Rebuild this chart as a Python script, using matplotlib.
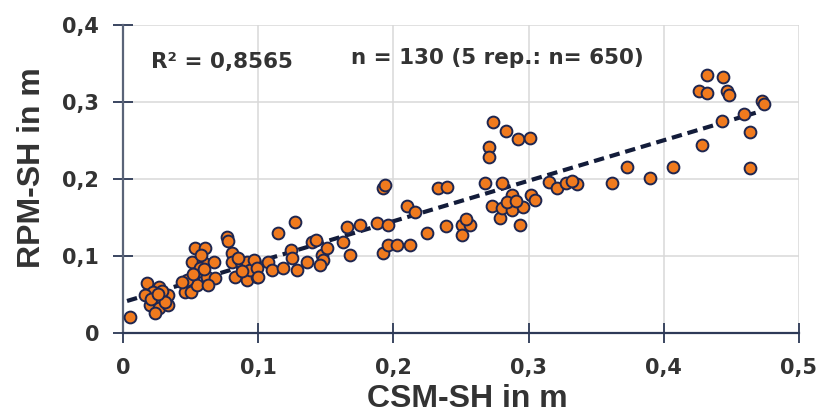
import matplotlib
matplotlib.use("Agg")
import matplotlib.pyplot as plt
from matplotlib.ticker import FuncFormatter
import numpy as np

plt.rcParams['font.family'] = ['Liberation Sans', 'DejaVu Sans']
plt.rcParams['font.weight'] = 'bold'

# CSM-SH (x) vs RPM-SH (y), in m
csm = [0.005,
       0.018, 0.027, 0.022, 0.025, 0.030, 0.020, 0.027, 0.024, 0.033, 0.033, 0.016, 0.029, 0.021, 0.031, 0.026,
       0.046, 0.050, 0.055, 0.047, 0.055, 0.062, 0.068, 0.063, 0.051, 0.059, 0.067, 0.053, 0.061, 0.058, 0.044,
       0.057, 0.052, 0.060,
       0.077, 0.078, 0.081, 0.081, 0.087, 0.092, 0.083, 0.092, 0.099, 0.094, 0.088, 0.097, 0.085,
       0.099, 0.100, 0.107, 0.110, 0.118, 0.115, 0.127, 0.124, 0.125, 0.129, 0.136, 0.140, 0.143, 0.147, 0.148,
       0.146, 0.151, 0.163, 0.166, 0.175, 0.188, 0.196, 0.168, 0.192, 0.196, 0.203, 0.192, 0.194, 0.210, 0.216,
       0.212, 0.225, 0.233, 0.240, 0.239, 0.251, 0.257, 0.251, 0.254,
       0.274, 0.283, 0.292, 0.301, 0.271, 0.271, 0.268, 0.280, 0.273, 0.279, 0.280, 0.288, 0.288, 0.296, 0.302,
       0.305, 0.294, 0.284, 0.291,
       0.315, 0.321, 0.328, 0.336, 0.332, 0.362, 0.373, 0.390, 0.407,
       0.432, 0.444, 0.426, 0.432, 0.447, 0.448, 0.473, 0.474, 0.443, 0.459, 0.464, 0.428, 0.464]
rpm = [0.021,
       0.065, 0.060, 0.053, 0.043, 0.047, 0.036, 0.032, 0.026, 0.036, 0.049, 0.049, 0.055, 0.044, 0.040, 0.050,
       0.053, 0.053, 0.062, 0.069, 0.079, 0.073, 0.071, 0.062, 0.092, 0.092, 0.092, 0.110, 0.110, 0.101, 0.066,
       0.085, 0.077, 0.083,
       0.125, 0.120, 0.104, 0.092, 0.092, 0.092, 0.073, 0.069, 0.073, 0.082, 0.080, 0.095, 0.098,
       0.084, 0.073, 0.092, 0.082, 0.084, 0.130, 0.144, 0.108, 0.097, 0.082, 0.092, 0.118, 0.121, 0.101, 0.095,
       0.088, 0.110, 0.118, 0.138, 0.140, 0.143, 0.140, 0.101, 0.104, 0.114, 0.114, 0.188, 0.192, 0.165, 0.157,
       0.114, 0.130, 0.188, 0.190, 0.139, 0.140, 0.140, 0.127, 0.148,
       0.274, 0.262, 0.252, 0.253, 0.242, 0.229, 0.195, 0.195, 0.165, 0.149, 0.162, 0.179, 0.160, 0.164, 0.179,
       0.173, 0.140, 0.170, 0.172,
       0.196, 0.188, 0.195, 0.193, 0.197, 0.195, 0.216, 0.201, 0.216,
       0.335, 0.333, 0.314, 0.312, 0.314, 0.309, 0.301, 0.298, 0.275, 0.284, 0.261, 0.244, 0.214]

# linear trend as printed in the figure
fit_intercept = 0.040
fit_slope = 0.526
fit_range = [0.003, 0.468]

r2_text = "R² = 0,8565"
n_text = "n = 130 (5 rep.: n= 650)"

ORANGE = "#F07A1E"
EDGE = "#1E2650"
LINE = "#131C3A"
TXT = "#333333"
WIDE = ['DejaVu Sans']  # wider face, closer to the stretched look of the original

fig = plt.figure(figsize=(8.22, 4.19), dpi=100)
ax = fig.add_axes([0.1496, 0.2053, 0.8224, 0.7347])

ax.grid(True, color="#D8D8D8", linewidth=1.1)
ax.set_axisbelow(True)

xs = np.array(fit_range)
ax.plot(xs, fit_intercept + fit_slope * xs, color=LINE, linewidth=3,
        dashes=(2.5, 1.4), zorder=2)
ax.scatter(csm, rpm, s=72, color=ORANGE, edgecolor=EDGE, linewidth=1.4, zorder=3)

ax.set_xlim(0, 0.5)
ax.set_ylim(0, 0.4)
ax.set_xticks([0, 0.1, 0.2, 0.3, 0.4, 0.5])
ax.set_yticks([0, 0.1, 0.2, 0.3, 0.4])
comma = FuncFormatter(lambda v, p: "0" if abs(v) < 1e-9 else f"{v:.1f}".replace(".", ","))
ax.xaxis.set_major_formatter(comma)
ax.yaxis.set_major_formatter(comma)

for s in ["top", "right"]:
    ax.spines[s].set_visible(False)
ax.spines["left"].set_color("#5A6478")
ax.spines["bottom"].set_color("#2E3A58")
ax.spines["left"].set_linewidth(1.6)
ax.spines["bottom"].set_linewidth(1.6)

ax.tick_params(axis="y", direction="inout", length=14, width=1.4, color="#3A4560",
               labelcolor=TXT, pad=10)
ax.tick_params(axis="x", direction="inout", length=14, width=1.4, color="#3A4560",
               labelcolor=TXT, pad=11)
for lab in ax.get_xticklabels() + ax.get_yticklabels():
    lab.set_fontweight("bold")
    lab.set_fontsize(15)
    lab.set_family(WIDE)

ax.set_xlabel("CSM-SH in m", fontsize=23, fontweight="bold", color=TXT)
ax.set_ylabel("RPM-SH in m", fontsize=23, fontweight="bold", color=TXT)
ax.xaxis.set_label_coords(0.51, -0.166)
ax.yaxis.set_label_coords(-0.112, 0.537)

ax.text(0.021, 0.352, r2_text, fontsize=15.5, fontweight="bold", color=TXT,
        va="center", family=WIDE)
ax.text(0.169, 0.357, n_text, fontsize=15.5, fontweight="bold", color=TXT,
        va="center", family=WIDE)

fig.savefig("out.png", dpi=100)
